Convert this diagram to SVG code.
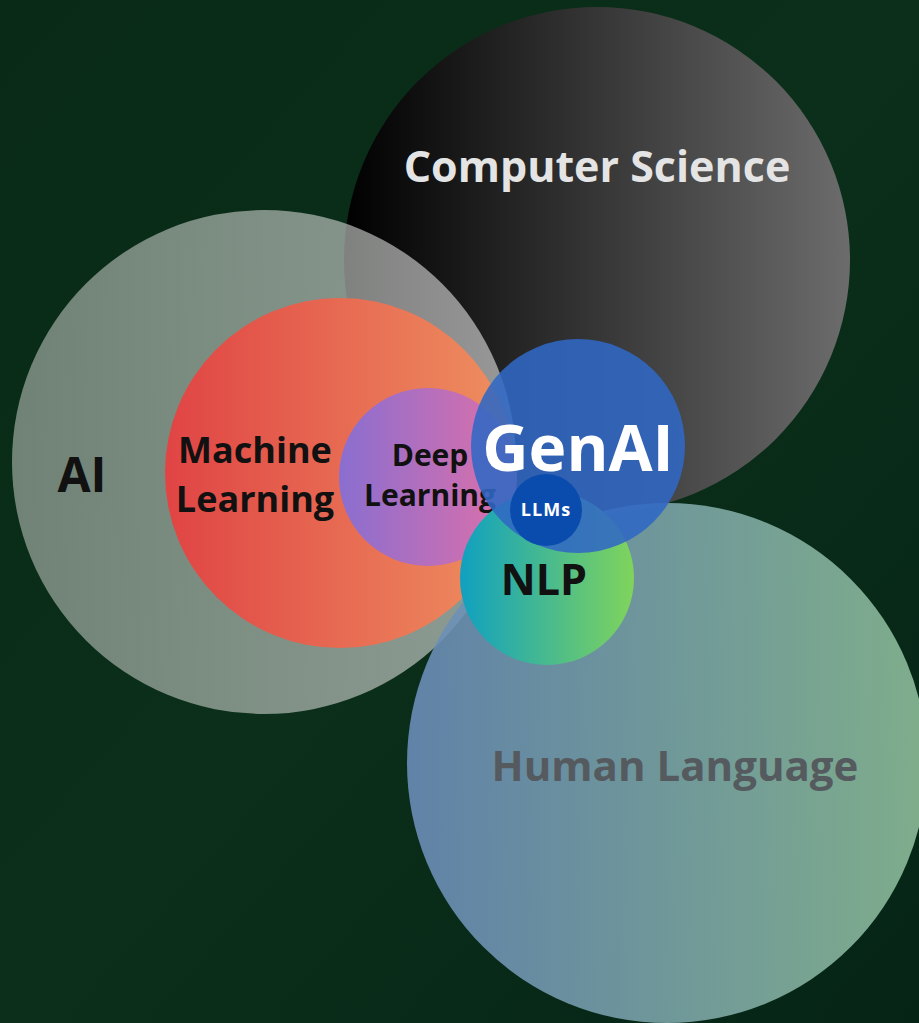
<svg xmlns="http://www.w3.org/2000/svg" width="919" height="1023" viewBox="0 0 919 1023">
<defs>
<linearGradient id="bg" x1="0" y1="0" x2="1" y2="1">
<stop offset="0" stop-color="#082a16"/><stop offset="0.5" stop-color="#0b2f1a"/><stop offset="1" stop-color="#052416"/>
</linearGradient>
<linearGradient id="gCS" x1="0" y1="0" x2="1" y2="0"><stop offset="0" stop-color="#000"/><stop offset="1" stop-color="#6c6c6c"/></linearGradient>
<linearGradient id="gAI" x1="0" y1="0" x2="1" y2="0"><stop offset="0" stop-color="#b4bcb4"/><stop offset="1" stop-color="#e6e6e6"/></linearGradient>
<linearGradient id="gHL" x1="0" y1="0" x2="1" y2="0"><stop offset="0" stop-color="#6a8cb8"/><stop offset="1" stop-color="#8cbc98"/></linearGradient>
<linearGradient id="gML" x1="0" y1="0" x2="1" y2="0"><stop offset="0" stop-color="#e04444"/><stop offset="1" stop-color="#ee9060"/></linearGradient>
<linearGradient id="gDL" x1="0" y1="0" x2="1" y2="0"><stop offset="0" stop-color="#8a6ed0"/><stop offset="1" stop-color="#e070a8"/></linearGradient>
<linearGradient id="gNLP" x1="0" y1="0" x2="1" y2="0"><stop offset="0" stop-color="#10a0c0"/><stop offset="1" stop-color="#80d45c"/></linearGradient>
<style>
text{font-family:"Open Sans","DejaVu Sans",sans-serif;font-weight:700;text-anchor:middle}
.dark{fill:#111}
.light{fill:#fff}
</style>
</defs>
<rect width="919" height="1023" fill="url(#bg)"/>
<g id="cs"><circle cx="597" cy="260" r="253" fill="url(#gCS)"/><text x="597" y="182" font-size="43" fill="#e4e4e4">Computer Science</text></g>
<g id="ai"><circle cx="264" cy="462" r="252" fill="url(#gAI)" opacity="0.6"/><text x="82" y="492" font-size="48" class="dark">AI</text></g>
<g id="hl"><circle cx="667" cy="763" r="260" fill="url(#gHL)" opacity="0.9"/><text x="675" y="781" font-size="42" fill="#555a5f">Human Language</text></g>
<g id="ml"><circle cx="340" cy="473" r="175" fill="url(#gML)"/><text x="255" y="463" font-size="36" class="dark">Machine</text><text x="255" y="512" font-size="36" class="dark">Learning</text></g>
<g id="dl"><circle cx="428" cy="477" r="89" fill="url(#gDL)"/><text x="430" y="466" font-size="30" class="dark">Deep</text><text x="430" y="506" font-size="30" class="dark">Learning</text></g>
<g id="nlp"><circle cx="547" cy="578" r="87" fill="url(#gNLP)"/><text x="544" y="595" font-size="43" class="dark">NLP</text></g>
<g id="genai"><circle cx="578" cy="446" r="107" fill="#3068c4" opacity="0.88"/><text x="578" y="471" font-size="64" class="light">GenAI</text></g>
<g id="llms"><circle cx="546" cy="510" r="36" fill="#0a4cae"/><text x="546" y="516" font-size="18" letter-spacing="1" class="light">LLMs</text></g>
<g id="connectors"/>
</svg>
